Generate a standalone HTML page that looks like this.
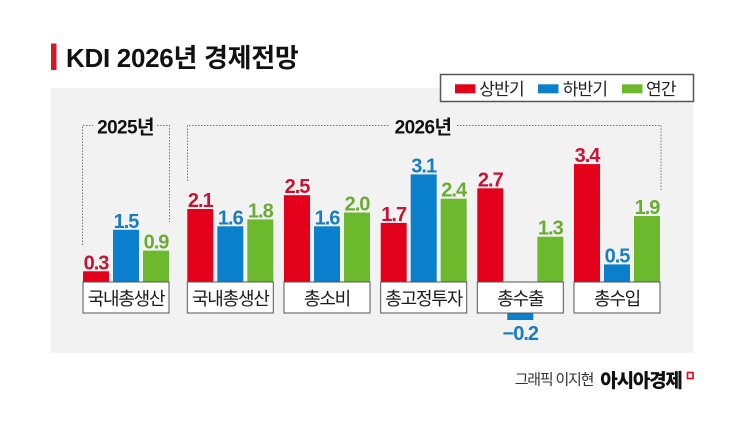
<!DOCTYPE html>
<html><head><meta charset="utf-8">
<style>
html,body{margin:0;padding:0;background:#fff;}
svg{display:block;}
text{font-family:"Liberation Sans","Noto Sans CJK KR",sans-serif;}
.v{font-size:20px;font-weight:bold;letter-spacing:-1px;text-anchor:middle;}
.r{fill:#cc1030;} .b{fill:#1a7dc2;} .g{fill:#6aac32;}
.lb{font-size:18px;letter-spacing:-1.2px;text-anchor:middle;fill:#1a1a1a;}
</style></head>
<body>
<svg width="745" height="431" viewBox="0 0 745 431" xmlns="http://www.w3.org/2000/svg">
<rect x="0" y="0" width="745" height="431" fill="#fff"/>
<!-- title -->
<rect x="51" y="43.5" width="5.5" height="26.5" fill="#d7182a"/>
<text x="66" y="67" font-size="26" font-weight="bold" letter-spacing="-0.3" fill="#111">KDI 2026년 경제전망</text>
<!-- panel -->
<rect x="51" y="88" width="642" height="265" fill="#f2f2f2"/>
<!-- legend -->
<rect x="440.5" y="74.5" width="253" height="27" fill="#fff" stroke="#555" stroke-width="1.5"/>
<rect x="455" y="84.3" width="20.5" height="9" fill="#e2001a"/>
<text x="479.3" y="95" font-size="17" letter-spacing="-0.8" fill="#222">상반기</text>
<rect x="538" y="84.3" width="20.5" height="9" fill="#0a80cc"/>
<text x="562.7" y="95" font-size="17" letter-spacing="-0.8" fill="#222">하반기</text>
<rect x="622" y="84.3" width="20.5" height="9" fill="#6cb92d"/>
<text x="646" y="95" font-size="17" letter-spacing="-0.8" fill="#222">연간</text>
<!-- brackets -->
<g stroke="#777" stroke-width="1" stroke-dasharray="1.5,1.5" fill="none">
<path d="M82.5,245 V125.5 H93"/>
<path d="M157,125.5 H169.5 V222"/>
<path d="M187.5,181 V125.5 H390"/>
<path d="M457,125.5 H661 V191"/>
</g>
<text x="125.5" y="133.5" font-size="19" font-weight="bold" letter-spacing="-0.6" text-anchor="middle" fill="#111">2025년</text>
<text x="423" y="133.5" font-size="19" font-weight="bold" letter-spacing="-0.6" text-anchor="middle" fill="#111">2026년</text>

<!-- bars: base 281.7, 34.6 px/unit -->
<g>
<rect x="83" y="271.3" width="26" height="10.4" fill="#e2001a"/>
<rect x="113" y="229.8" width="26" height="51.9" fill="#0a80cc"/>
<rect x="143" y="250.6" width="26" height="31.1" fill="#6cb92d"/>

<rect x="187.3" y="209.0" width="26" height="72.7" fill="#e2001a"/>
<rect x="217.3" y="226.3" width="26" height="55.4" fill="#0a80cc"/>
<rect x="247.3" y="219.4" width="26" height="62.3" fill="#6cb92d"/>

<rect x="284" y="195.2" width="26" height="86.5" fill="#e2001a"/>
<rect x="314" y="226.3" width="26" height="55.4" fill="#0a80cc"/>
<rect x="344" y="212.5" width="26" height="69.2" fill="#6cb92d"/>

<rect x="380.7" y="222.9" width="26" height="58.8" fill="#e2001a"/>
<rect x="410.7" y="174.4" width="26" height="107.3" fill="#0a80cc"/>
<rect x="440.7" y="198.7" width="26" height="83" fill="#6cb92d"/>

<rect x="477.3" y="188.3" width="26" height="93.4" fill="#e2001a"/>
<rect x="507.3" y="313" width="26" height="7" fill="#0a80cc"/>
<rect x="537.3" y="236.7" width="26" height="45" fill="#6cb92d"/>

<rect x="574" y="164.1" width="26" height="117.6" fill="#e2001a"/>
<rect x="604" y="264.4" width="26" height="17.3" fill="#0a80cc"/>
<rect x="634" y="216" width="26" height="65.7" fill="#6cb92d"/>
</g>

<!-- value labels -->
<text class="v r" x="96" y="269.3">0.3</text>
<text class="v b" x="126" y="227.8">1.5</text>
<text class="v g" x="156" y="248.6">0.9</text>

<text class="v r" x="200.3" y="207">2.1</text>
<text class="v b" x="230.3" y="224.3">1.6</text>
<text class="v g" x="260.3" y="217.4">1.8</text>

<text class="v r" x="297" y="193.2">2.5</text>
<text class="v b" x="327" y="224.3">1.6</text>
<text class="v g" x="357" y="210.5">2.0</text>

<text class="v r" x="393.7" y="220.9">1.7</text>
<text class="v b" x="423.7" y="172.4">3.1</text>
<text class="v g" x="453.7" y="196.7">2.4</text>

<text class="v r" x="490.3" y="186.3">2.7</text>
<text class="v b" x="520.3" y="340">−0.2</text>
<text class="v g" x="550.3" y="234.7">1.3</text>

<text class="v r" x="587" y="162.1">3.4</text>
<text class="v b" x="617" y="262.4">0.5</text>
<text class="v g" x="647" y="214">1.9</text>

<!-- category boxes -->
<g fill="#fff" stroke="#555" stroke-width="1">
<rect x="83" y="282" width="86" height="31"/>
<rect x="187.3" y="282" width="86" height="31"/>
<rect x="284" y="282" width="86" height="31"/>
<rect x="380.7" y="282" width="86" height="31"/>
<rect x="477.3" y="282" width="86" height="31"/>
<rect x="574" y="282" width="86" height="31"/>
</g>
<text class="lb" x="126" y="305">국내총생산</text>
<text class="lb" x="230.3" y="305">국내총생산</text>
<text class="lb" x="327" y="305">총소비</text>
<text class="lb" x="423.7" y="305">총고정투자</text>
<text class="lb" x="520.3" y="305">총수출</text>
<text class="lb" x="617" y="305">총수입</text>

<!-- footer -->
<text x="514.7" y="384.5" font-size="15" letter-spacing="-1.2" fill="#333">그래픽 이지현</text>
<text x="600.3" y="387" font-size="19" font-weight="900" letter-spacing="-1.2" fill="#111">아시아경제</text>
<rect x="687.5" y="372.5" width="5.5" height="6" fill="none" stroke="#e2001a" stroke-width="1.6"/>
</svg>
</body></html>
